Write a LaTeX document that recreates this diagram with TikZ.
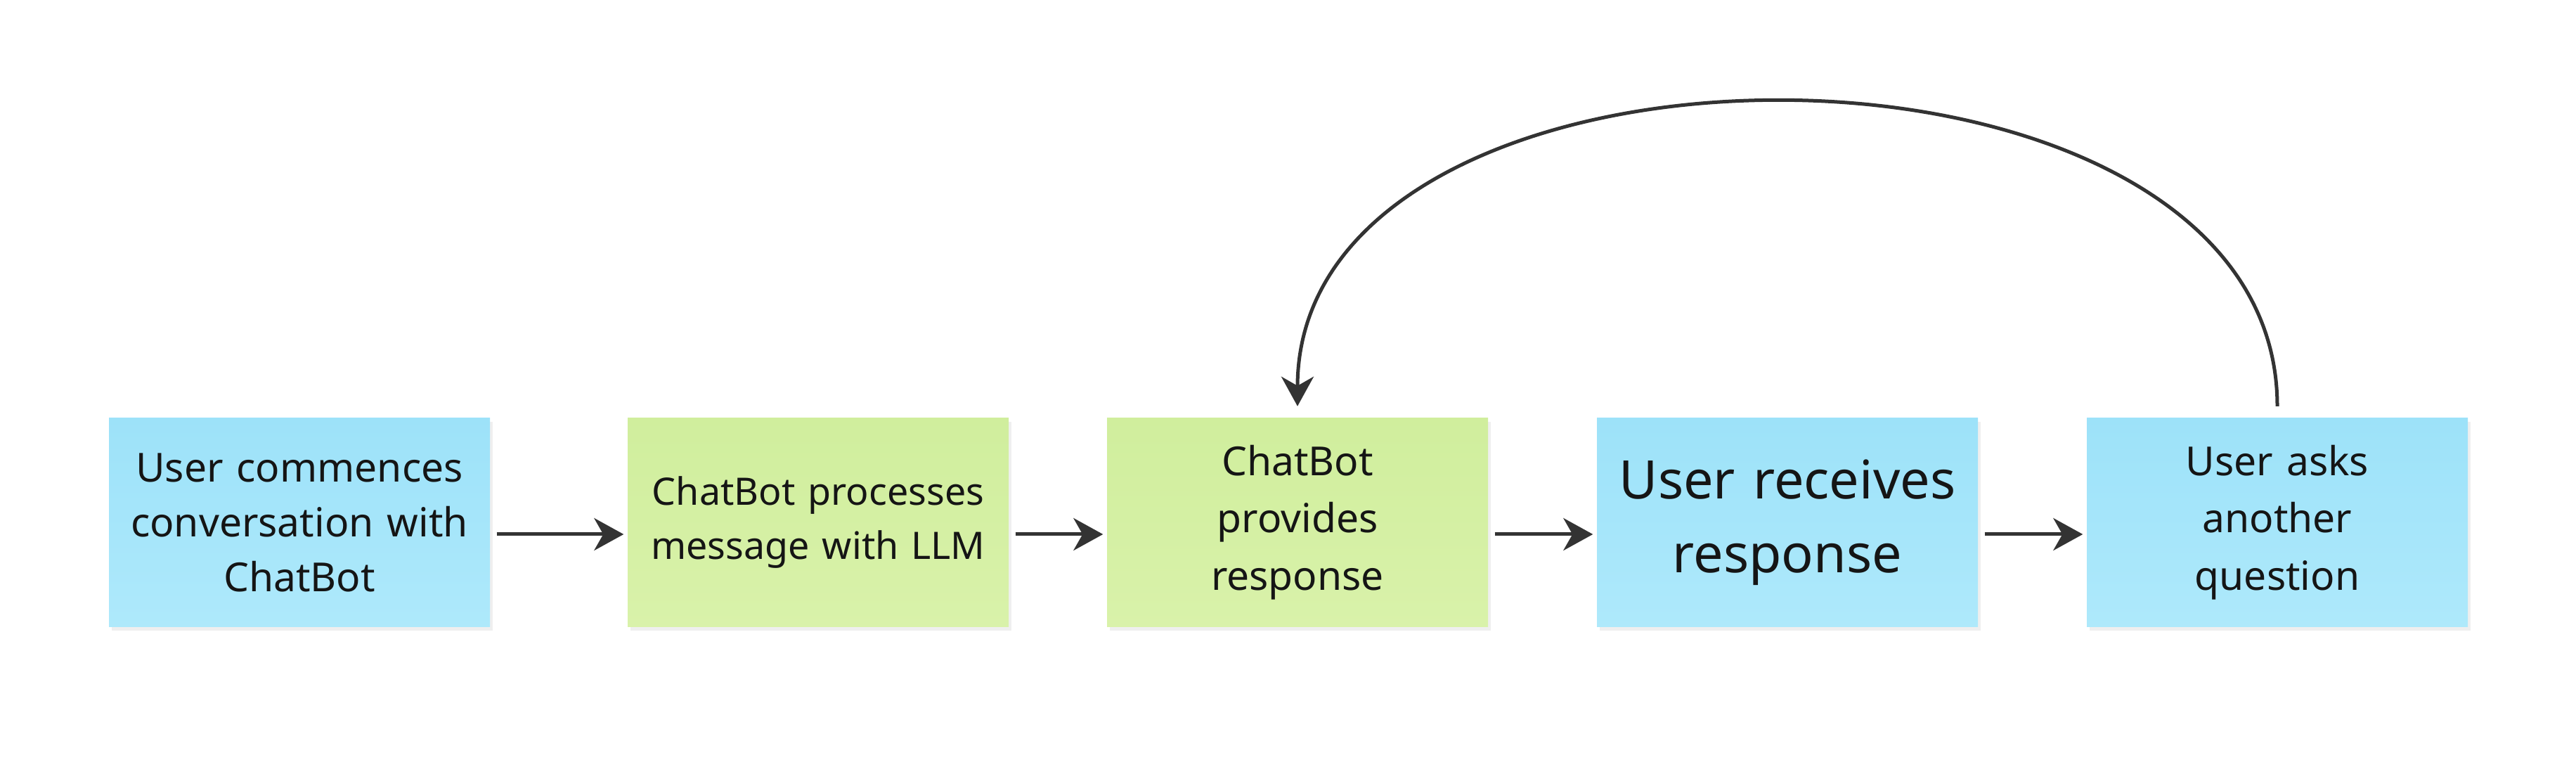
\documentclass[tikz,border=0pt]{standalone}
\usepackage{fontspec}
\setmainfont{Noto Sans}
\usetikzlibrary{arrows.meta,shadows}
\definecolor{bluetop}{HTML}{9DE2F9}
\definecolor{bluebot}{HTML}{AEE9FB}
\definecolor{greentop}{HTML}{D0EE9D}
\definecolor{greenbot}{HTML}{D9F2AA}
\definecolor{txt}{HTML}{151515}
\definecolor{arr}{HTML}{333333}

\begin{document}
\begin{tikzpicture}[
	note/.style={minimum width=5.42cm, minimum height=2.97cm, text width=5.3cm, align=center, inner sep=0pt, text=txt,
		drop shadow={opacity=0.12, shadow xshift=0.04cm, shadow yshift=-0.06cm}},
	usernote/.style={note, top color=bluetop, bottom color=bluebot},
	botnote/.style={note, top color=greentop, bottom color=greenbot},
	es/.style={-{Stealth[length=0.42cm,width=0.46cm,inset=0.13cm]}, line width=0.05cm, draw=arr}
]
	\useasboundingbox [fill=white] (0,0) rectangle (36.65,10.91);
	% sticky notes
	\node [usernote, font=\fontsize{16.2}{22.2}\selectfont] (start) at (4.26,3.48) {User commences\\conversation with\\ChatBot};
	\node [botnote, font=\fontsize{15.3}{21.9}\selectfont] (process) at (11.64,3.48) {ChatBot processes\\message with LLM};
	\node [botnote, font=\fontsize{16.2}{23.2}\selectfont] (reply) at (18.46,3.48) {ChatBot\\provides\\response};
	\node [usernote, font=\fontsize{21.5}{29.9}\selectfont] (receive) at (25.43,3.48) {User receives\\response};
	\node [usernote, font=\fontsize{16.2}{23.2}\selectfont] (ask) at (32.40,3.48) {User asks\\another\\question};
	% flow
	\draw [es, shorten <=0.09cm, shorten >=0.05cm] ([yshift=-0.17cm]start.east) -- ([yshift=-0.17cm]process.west);
	\draw [es, shorten <=0.09cm, shorten >=0.05cm] ([yshift=-0.17cm]process.east) -- ([yshift=-0.17cm]reply.west);
	\draw [es, shorten <=0.09cm, shorten >=0.05cm] ([yshift=-0.17cm]reply.east) -- ([yshift=-0.17cm]receive.west);
	\draw [es, shorten <=0.09cm, shorten >=0.05cm] ([yshift=-0.17cm]receive.east) -- ([yshift=-0.17cm]ask.west);
	% loop back
	\draw [es] ([yshift=0.16cm]ask.north) .. controls +(0,5.76) and +(0,5.76) .. ([yshift=0.16cm]reply.north);
\end{tikzpicture}
\end{document}
